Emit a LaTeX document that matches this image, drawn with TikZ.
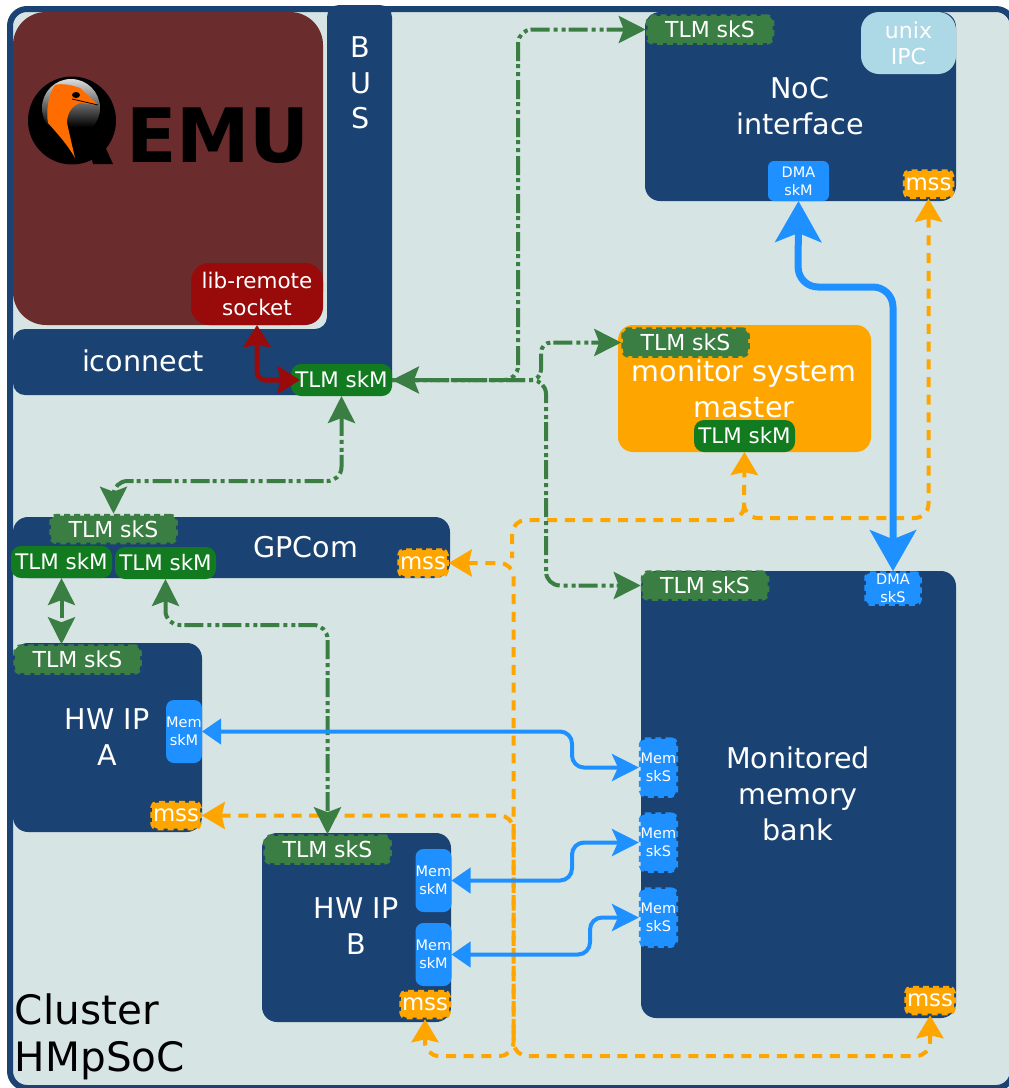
\documentclass[tikz,border=0pt]{standalone}
\usepackage{fontspec}
\setmainfont{DejaVu Sans}
\usetikzlibrary{arrows.meta,calc}
\definecolor{bgc}{HTML}{D6E5E4}
\definecolor{navy}{HTML}{1A4373}
\definecolor{qemuc}{HTML}{6B2C2D}
\definecolor{libc}{HTML}{990A0A}
\definecolor{sksc}{HTML}{3B7E43}
\definecolor{skmc}{HTML}{127A1F}
\definecolor{bluec}{HTML}{1F90FF}
\definecolor{orc}{HTML}{FFA500}
\definecolor{birdc}{HTML}{FF6C00}
\definecolor{ipcc}{HTML}{ADD8E6}
\newcommand{\fs}[2]{\fontsize{#1pt}{#2pt}\selectfont}
\tikzset{
  x=1pt,y=-1pt,
  box/.style={inner sep=0pt,outer sep=0pt,text=white,align=center,rounded corners=#1},
  box/.default=15pt,
  block/.style={box=15pt,fill=navy,font=\fs{28.6}{35.5}},
  skmbox/.style={box=10pt,fill=skmc,font=\fs{21.4}{26},minimum width=101pt,minimum height=32pt},
  sksbox/.style={box=6pt,outer sep=1.75pt,fill=sksc,draw=sksc,line width=3.5pt,dash pattern=on 6pt off 4pt,font=\fs{22}{26},minimum width=125pt,minimum height=27pt},
  mssbox/.style={box=5pt,outer sep=1.75pt,fill=orc,draw=orc,line width=3.5pt,dash pattern=on 6pt off 4pt,font=\fs{22.8}{26},minimum width=48pt,minimum height=26pt},
  memM/.style={box=8pt,fill=bluec,font=\fs{14.5}{18},minimum width=36pt,minimum height=63pt},
  memS/.style={box=5pt,outer sep=1.75pt,fill=bluec,draw=bluec,line width=3.5pt,dash pattern=on 6pt off 4pt,font=\fs{14.5}{18},minimum width=29pt,minimum height=57pt},
  glink/.style={draw=sksc,line width=4pt,rounded corners=14pt,dash pattern=on 19pt off 4pt on 4pt off 4pt on 4pt off 3pt},
  olink/.style={draw=orc,line width=4pt,rounded corners=14pt,dash pattern=on 10pt off 7.7pt},
  blink/.style={draw=bluec,line width=4pt,rounded corners=12pt},
  gtip/.tip={Stealth[length=27pt,width=27pt,inset=5pt]},
  otip/.tip={Stealth[length=23pt,width=27pt,inset=3pt]},
  rtip/.tip={Stealth[length=22pt,width=27pt,inset=2pt]},
  btip/.tip={Stealth[length=27pt,width=27pt,inset=6pt]},
  bflat/.tip={Stealth[length=19pt,width=25pt,inset=0pt]},
  bigtip/.tip={Stealth[length=41pt,width=46pt,inset=9pt]},
}
\begin{document}
\begin{tikzpicture}
\useasboundingbox (0,0) rectangle (1009,1088);
\begin{scope}
\clip (0,0) rectangle (1009,1088);
\draw[navy,fill=bgc,line width=6pt,rounded corners=17pt] (10,9) rectangle (1013,1088);
\end{scope}

% QEMU
\node[box=33pt,fill=qemuc,minimum width=310pt,minimum height=313pt] (qemu) at (168,168.5) {};
\fill[black] (72,120.5) circle (44);
\fill[black] (90,150) -- (102,140) -- (113,164) -- (93,164) -- cycle;
\begin{scope}
\clip (71,108) circle (29);
\shade[top color=white!88!black,bottom color=black] (40,78) rectangle (102,127);
\end{scope}
\fill[birdc] (55,85) .. controls (62,83) and (72,85) .. (80,88) -- (98,105) -- (80,103) .. controls (72,106) and (67,113) .. (67,123) -- (75,158) .. controls (68,145) and (56,132) .. (48,123) .. controls (46,112) and (48,95) .. (55,85) -- cycle;
\fill[black] (76,95) ellipse (4 and 3);
\draw[black,line width=0.8pt] (72,99) -- (98,105);
\node[font=\fontsize{75pt}{80pt}\bfseries\selectfont,text=black,inner sep=0pt,xscale=.985] (emu) at (218,136) {EMU};

% BUS and iconnect
\fill[navy,rounded corners=12pt] (327,329) -- (327,5) -- (392,5) -- (392,395) -- (13,395) -- (13,329) -- cycle;
\fill[navy] (317,329) rectangle (327,345);
\node[box=0pt,text=white,font=\fs{28.6}{35.5}] (bus) at (360.5,83) {B\\U\\S};
\node[box=0pt,text=white,font=\fs{28.6}{34}] (icon) at (143,361) {iconnect};
\node[box=18pt,fill=libc,minimum width=132pt,minimum height=62pt,font=\fs{21.5}{27}] (lib) at (257,294) {lib-remote\\socket};
\node[skmbox] (mI) at (341.5,380) {TLM skM};

% NoC interface
\node[block,minimum width=311pt,minimum height=189pt] (noc) at (800.5,106.5) {};
\node[box=0pt,font=\fs{28.6}{35.5}] (noct) at (800,106) {NoC\\interface};
\node[sksbox] (sN) at (710,29.5) {TLM skS};
\node[box=18pt,fill=ipcc,minimum width=95pt,minimum height=62pt,font=\fs{22}{26}] (ipc) at (908.5,43) {unix\\IPC};
\node[box=6pt,fill=bluec,minimum width=61pt,minimum height=40pt,font=\fs{14.5}{18}] (dmaM) at (798.5,181) {DMA\\skM};
\node[mssbox] (msN) at (928.5,184) {mss};

% monitor system master
\node[box=15pt,fill=orc,minimum width=253pt,minimum height=127pt] (mon) at (744.5,388.5) {};
\node[box=0pt,font=\fs{28.6}{36}] (mont) at (744,389) {monitor system\\master};
\node[sksbox] (sMon) at (685.5,342.5) {TLM skS};
\node[skmbox] (mMon) at (744.5,436) {TLM skM};

% GPCom
\node[block,minimum width=437pt,minimum height=61pt] (gp) at (231.5,547.5) {};
\node[box=0pt,font=\fs{28.6}{34}] (gpt) at (305.5,547) {GPCom};
\node[sksbox] (sG) at (113.5,529) {TLM skS};
\node[skmbox] (mG1) at (61.5,562) {TLM skM};
\node[skmbox] (mG2) at (165.5,563) {TLM skM};
\node[mssbox] (msG) at (423,563) {mss};

% HW IP A
\node[block,minimum width=189pt,minimum height=189pt] (hwa) at (107.5,737.5) {};
\node[box=0pt,font=\fs{28.6}{35.5}] (hwat) at (107,737) {HW IP\\A};
\node[sksbox] (sA) at (77.5,659.5) {TLM skS};
\node[memM] (memA) at (184,731.5) {Mem\\skM};
\node[mssbox] (msA) at (176,815.5) {mss};

% HW IP B
\node[block,minimum width=189pt,minimum height=189pt] (hwb) at (356.5,927.5) {};
\node[box=0pt,font=\fs{28.6}{35.5}] (hwbt) at (356,926) {HW IP\\B};
\node[sksbox] (sB) at (327.5,849.5) {TLM skS};
\node[memM] (memB1) at (433.5,880.5) {Mem\\skM};
\node[memM] (memB2) at (433.5,954.5) {Mem\\skM};
\node[mssbox] (msB) at (425,1004.5) {mss};

% Monitored memory bank
\node[block,minimum width=315pt,minimum height=447pt] (bank) at (798.5,794.5) {};
\node[box=0pt,font=\fs{28.6}{36}] (bankt) at (798,794) {Monitored\\memory\\bank};
\node[sksbox] (sBk) at (705,585.5) {TLM skS};
\node[box=4pt,outer sep=1.75pt,fill=bluec,draw=bluec,line width=3.5pt,dash pattern=on 6pt off 4pt,font=\fs{14.5}{18},minimum width=54pt,minimum height=31pt] (dmaS) at (893,588.5) {DMA\\skS};
\node[memS] (mS1) at (658.5,767.5) {Mem\\skS};
\node[memS] (mS2) at (658.5,842.5) {Mem\\skS};
\node[memS] (mS3) at (658.5,917.5) {Mem\\skS};
\node[mssbox] (msBk) at (930,1000.5) {mss};

% cluster label
\node[box=0pt,text=black,font=\fs{40.5}{47},align=left,anchor=south west] (cl) at (15,1080) {Cluster\\HMpSoC};

% junction helpers
\coordinate (gv1) at (518,200);
\coordinate (gv2) at (541,360);
\coordinate (gv3) at (546,480);
\coordinate (gh1) at (220,481);
\coordinate (gh2) at (250,625);
\coordinate (bv1) at (798,287);
\coordinate (bv2) at (893,287);
\coordinate (bv3) at (572,750);
\coordinate (bv4) at (572,860);
\coordinate (bv5) at (590,935);
\coordinate (oA) at (744,518);
\coordinate (oJ) at (744,506);
\coordinate (oB) at (512,520);
\coordinate (oK) at (512,558);
\coordinate (oM) at (513.5,800);
\coordinate (oC) at (513.5,1056);
\coordinate (oF) at (513.5,1040);
\coordinate (oG) at (513.5,1030);
\coordinate (oH) at (930,1056);
\coordinate (rc) at (257,380);

% orange links
\draw[olink,{otip}-{otip}] (msN.south) |- (oA) -- (mMon.south);
\draw[olink] (oJ) |- (oB) -- (oK);
\draw[olink,{otip}-{otip}] (msG.east) -| (oM) -- (oC) -| (msB.south);
\draw[olink,{otip}-] (msA.east) -| (oF);
\draw[olink,-{otip}] (oG) |- (oH) -- (msBk.south);

% green links
\draw[glink,{gtip}-{gtip}] (mI.east) -- (mI.east -| gv1) -- (gv1 |- sN.west) -- (sN.west);
\draw[glink,rounded corners=10pt,-{gtip}] (mI.east) -- (mI.east -| gv2) -- (gv2 |- sMon.west) -- (sMon.west);
\draw[glink,-{gtip}] (mI.east) -- (mI.east -| gv3) -- (gv3 |- sBk.west) -- (sBk.west);
\draw[glink,{gtip}-{gtip}] (mI.south) |- (gh1) -| (sG.north);
\draw[glink,{gtip}-{gtip}] (mG1.south) -- (mG1.south |- sA.north);
\draw[glink,{gtip}-{gtip}] (mG2.south) |- (gh2) -| (sB.north);

% blue links
\draw[blink,line width=7pt,rounded corners=20pt,{bigtip}-{bigtip}] (dmaM.south) -- (bv1) -- (bv2) -- (dmaS.north);
\draw[blink,{bflat}-{btip}] (memA.east) -- (memA.east -| bv3) -- (bv3 |- mS1.west) -- (mS1.west);
\draw[blink,{bflat}-{btip}] (memB1.east) -- (memB1.east -| bv4) -- (bv4 |- mS2.west) -- (mS2.west);
\draw[blink,{bflat}-{btip}] (memB2.east) -- (memB2.east -| bv5) -- (bv5 |- mS3.west) -- (mS3.west);

% red link
\draw[libc,line width=5pt,rounded corners=8pt,{rtip}-{rtip}] (lib.south) -- (rc) -- ($(mI.west)+(9,0)$);
\end{tikzpicture}
\end{document}
